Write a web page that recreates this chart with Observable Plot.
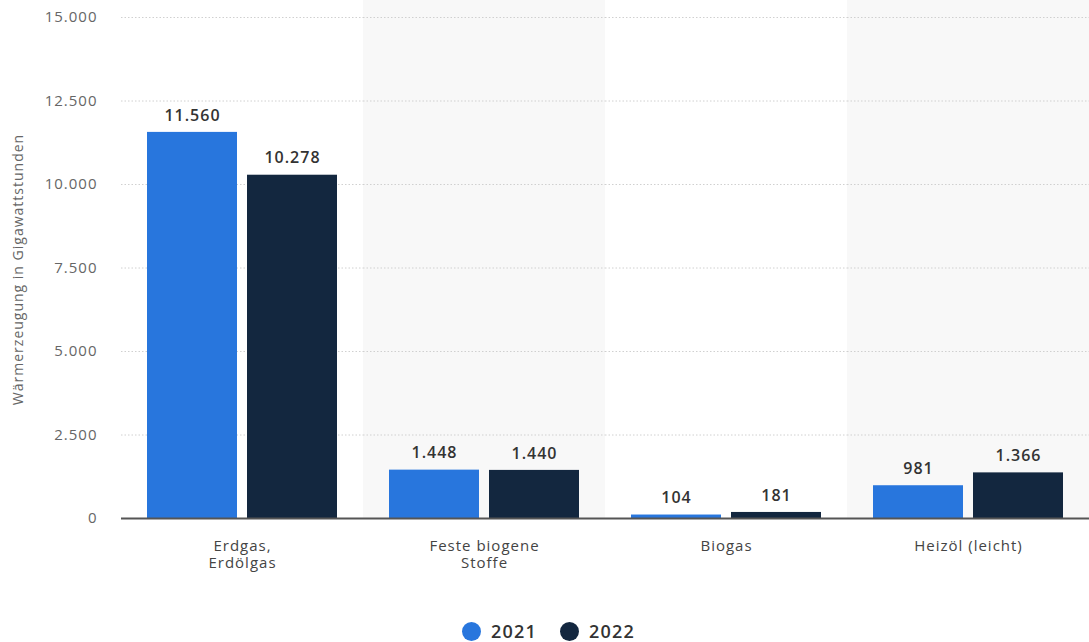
<!DOCTYPE html>
<html>
<head>
<meta charset="utf-8">
<script src="https://cdn.jsdelivr.net/npm/d3@7"></script>
<script src="https://cdn.jsdelivr.net/npm/@observablehq/plot@0.6"></script>
<style>
  body { margin: 0; background: #fff; font-family: "Open Sans", sans-serif; }
  #legend { display: flex; justify-content: center; gap: 23px; margin-left: 8px; margin-top: 19px; font-weight: 600; font-size: 18px; letter-spacing: 1.2px; color: #333; }
  #legend span.item { display: flex; align-items: center; gap: 10px; }
  #legend span.dot { width: 19px; height: 19px; border-radius: 50%; display: inline-block; }
</style>
</head>
<body>
<div id="chart"></div>
<div id="legend"></div>
<script>
const categories = ["Erdgas,\nErdölgas", "Feste biogene\nStoffe", "Biogas", "Heizöl (leicht)"];
const years = ["2021", "2022"];
const values2021 = [11560, 1448, 104, 981];
const values2022 = [10278, 1440, 181, 1366];
const yTicks = [0, 2500, 5000, 7500, 10000, 12500, 15000];
const colors = ["#2876dd", "#13273f"];
const shaded = [categories[1], categories[3]];

const data = [];
categories.forEach((c, i) => {
  data.push({cat: c, year: years[0], value: values2021[i]});
  data.push({cat: c, year: years[1], value: values2022[i]});
});

const de = d3.formatLocale({decimal: ",", thousands: ".", grouping: [3], currency: ["", " €"]});
const fmt = de.format(",d");
const yTop = 15509;

const chart = Plot.plot({
  width: 1089,
  height: 600,
  marginLeft: 121,
  marginRight: 0,
  marginTop: 0,
  marginBottom: 82,
  style: {fontFamily: "Open Sans, sans-serif", background: "#fff", fontSize: "15px", letterSpacing: "1px"},
  fx: {domain: categories, padding: 0, label: null, axis: null},
  x: {domain: years, axis: null, paddingInner: 0.1, paddingOuter: 0.25},
  y: {domain: [0, yTop], label: null, axis: null},
  color: {domain: years, range: colors},
  marks: [
    Plot.rect(shaded, {fx: d => d, y1: 0, y2: yTop, fill: "#f8f8f8"}),
    Plot.gridY(yTicks.slice(1), {stroke: "#d0d0d0", strokeOpacity: 1, strokeDasharray: "1.5,2", strokeWidth: 1}),
    Plot.barY(data, {fx: "cat", x: "year", y: "value", fill: "year"}),
    Plot.text(data, {fx: "cat", x: "year", y: "value", text: d => fmt(d.value), dy: -17, fontWeight: 600, fontSize: 16, fill: "#333"}),
    Plot.ruleY([0], {stroke: "#555", strokeWidth: 2}),
    Plot.axisFx({anchor: "bottom", tickSize: 0, tickPadding: 21, fontSize: 15, lineHeight: 1.1, fill: "#444", label: null}),
    Plot.axisY({ticks: yTicks, tickFormat: fmt, tickSize: 0, tickPadding: 24, fontSize: 15, fill: "#666", label: null, facetAnchor: "left"}),
    Plot.text(["Wärmerzeugung in Gigawattstunden"], {frameAnchor: "left", textAnchor: "middle", rotate: -90, dx: -103, dy: 10, fontSize: 14, letterSpacing: "0.7px", fill: "#666", facetAnchor: "left"})
  ]
});
document.getElementById("chart").appendChild(chart);

const legend = document.getElementById("legend");
years.forEach((y, i) => {
  const item = document.createElement("span");
  item.className = "item";
  const dot = document.createElement("span");
  dot.className = "dot";
  dot.style.background = colors[i];
  item.appendChild(dot);
  item.appendChild(document.createTextNode(y));
  legend.appendChild(item);
});
</script>
</body>
</html>
